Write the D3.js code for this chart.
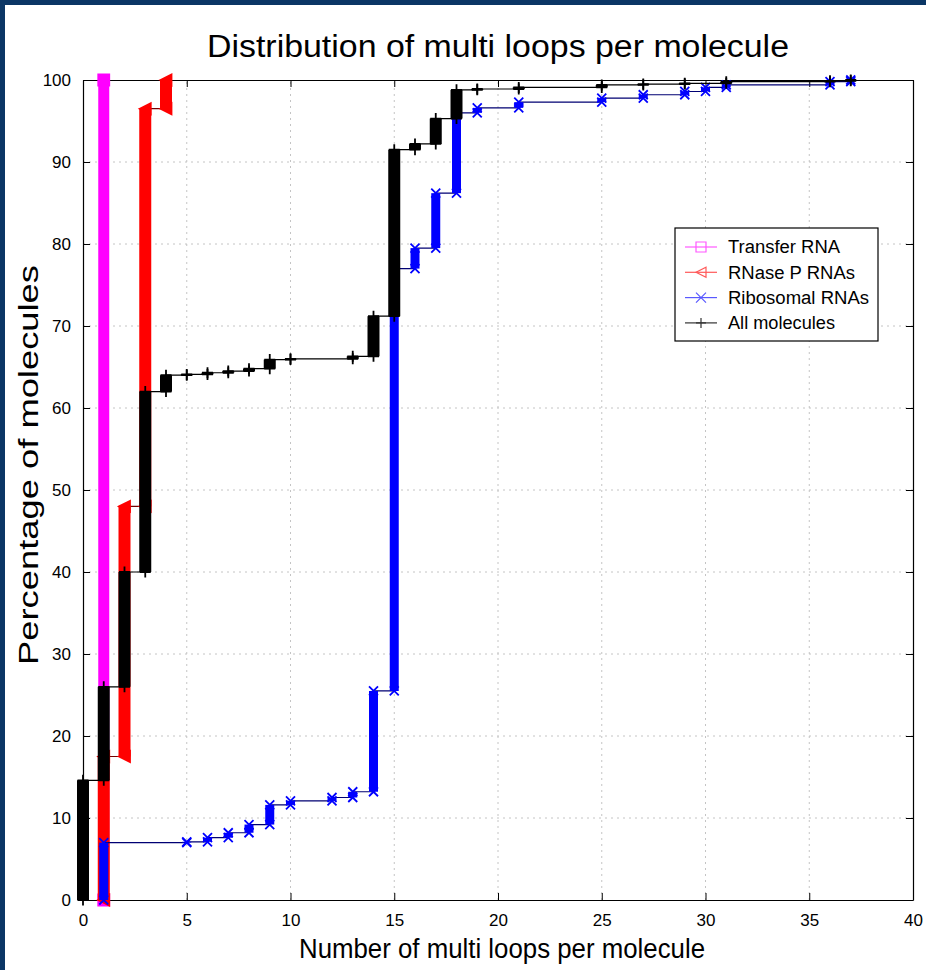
<!DOCTYPE html>
<html>
<head>
<meta charset="utf-8">
<script src="https://cdn.jsdelivr.net/npm/d3@7"></script>
<style>
  html, body { margin: 0; padding: 0; background: #fff; }
  svg { display: block; }
</style>
</head>
<body>
<div id="chart"></div>
<script>
// Cumulative share of molecules (%) reached at each number of multi loops
const transferX = [1];
const transferY = [100];

const rnaseX = [1, 2, 3, 4];
const rnaseY = [17.5, 48, 96.5, 100];

const riboX = [1, 5, 6, 7, 8, 9, 10, 12, 13, 14, 15, 16, 17, 18, 19, 21, 25, 27, 29, 30, 31, 36, 37];
const riboY = [7, 7.1, 7.6, 8.2, 9.2, 11.6, 12.1, 12.5, 13.2, 25.5, 77, 79.5, 86.2, 96, 96.6, 97.3, 97.8, 98.2, 98.6, 99.1, 99.4, 99.8, 100];

const allX = [0, 1, 2, 3, 4, 5, 6, 7, 8, 9, 10, 13, 14, 15, 16, 17, 18, 19, 21, 25, 27, 29, 31, 36, 37];
const allY = [14.6, 26, 40, 62, 64, 64.1, 64.3, 64.5, 64.8, 65.9, 66, 66.3, 71.2, 91.5, 92.2, 95.3, 98.8, 98.9, 99.1, 99.4, 99.5, 99.6, 99.8, 99.9, 100];

const xTicks = [0, 5, 10, 15, 20, 25, 30, 35, 40];
const yTicks = [0, 10, 20, 30, 40, 50, 60, 70, 80, 90, 100];

const seriesNames = ['Transfer RNA', 'RNase P RNAs', 'Ribosomal RNAs', 'All molecules'];

const FONT = '"Liberation Sans", Arial, Helvetica, sans-serif';

function draw() {
  const width = 926;
  const height = 970;

  const series = [
    { name: seriesNames[0], xs: transferX, ys: transferY, color: '#ff00ff', marker: 'square', bar: 11 },
    { name: seriesNames[1], xs: rnaseX, ys: rnaseY, color: '#ff0000', marker: 'left', bar: 12 },
    { name: seriesNames[2], xs: riboX, ys: riboY, color: '#0000ff', marker: 'x', bar: 9 },
    { name: seriesNames[3], xs: allX, ys: allY, color: '#000000', marker: 'plus', bar: 12 }
  ];

  const svg = d3.select('#chart')
    .append('svg')
    .attr('width', width)
    .attr('height', height);

  svg.append('rect')
    .attr('width', width)
    .attr('height', height)
    .attr('fill', '#fff');

  // dark blue slide frame (top and left)
  svg.append('rect').attr('x', 0).attr('y', 0).attr('width', width).attr('height', 5).attr('fill', '#0b3665');
  svg.append('rect').attr('x', 0).attr('y', 0).attr('width', 5).attr('height', height).attr('fill', '#0b3665');

  const x = d3.scaleLinear().domain([0, 40]).range([83, 913]);
  const y = d3.scaleLinear().domain([0, 100]).range([900, 80]);

  // Grid
  svg.append('g')
    .selectAll('line')
    .data(xTicks.slice(1, -1))
    .enter()
    .append('line')
    .attr('x1', d => x(d)).attr('x2', d => x(d))
    .attr('y1', y(0)).attr('y2', y(100))
    .attr('stroke', '#c4c4c4')
    .attr('stroke-dasharray', '2,4');

  svg.append('g')
    .selectAll('line')
    .data(yTicks.slice(1, -1))
    .enter()
    .append('line')
    .attr('x1', x(0)).attr('x2', x(40))
    .attr('y1', d => y(d)).attr('y2', d => y(d))
    .attr('stroke', '#c4c4c4')
    .attr('stroke-dasharray', '2,4');

  // Axes with inward ticks on all four sides
  const axisStyle = g => {
    g.select('.domain').attr('stroke', '#000').attr('stroke-width', 1.2);
    g.selectAll('.tick line').attr('stroke', '#000');
    g.selectAll('text').attr('fill', '#000').attr('font-family', FONT).attr('font-size', '17px');
  };

  svg.append('g')
    .attr('transform', `translate(0,${y(0)})`)
    .call(d3.axisBottom(x).tickValues(xTicks).tickSizeInner(-7).tickSizeOuter(0).tickPadding(14))
    .call(axisStyle);

  svg.append('g')
    .attr('transform', `translate(0,${y(100)})`)
    .call(d3.axisTop(x).tickValues(xTicks).tickSizeInner(-7).tickSizeOuter(0).tickFormat(''))
    .call(axisStyle);

  svg.append('g')
    .attr('transform', `translate(${x(0)},0)`)
    .call(d3.axisLeft(y).tickValues(yTicks).tickSizeInner(-7).tickSizeOuter(0).tickPadding(12))
    .call(axisStyle);

  svg.append('g')
    .attr('transform', `translate(${x(40)},0)`)
    .call(d3.axisRight(y).tickValues(yTicks).tickSizeInner(-7).tickSizeOuter(0).tickFormat(''))
    .call(axisStyle);

  const markerPath = (type, s) => {
    if (type === 'square') return `M${-s},${-s}H${s}V${s}H${-s}Z`;
    if (type === 'left') return `M${-s},0L${s},${-s}L${s},${s}Z`;
    if (type === 'x') return `M${-s},${-s}L${s},${s}M${-s},${s}L${s},${-s}`;
    return `M${-s},0H${s}M0,${-s}V${s}`;
  };

  const plot = svg.append('g');

  series.forEach(s => {
    const jumps = s.xs.map((xv, i) => ({ x: xv, lo: i ? s.ys[i - 1] : 0, hi: s.ys[i] }));
    const pts = [];
    jumps.forEach(j => { pts.push([j.x, j.lo]); pts.push([j.x, j.hi]); });

    // thin stairs
    plot.append('path')
      .attr('d', d3.line().x(d => x(d[0])).y(d => y(d[1]))(pts))
      .attr('fill', 'none')
      .attr('stroke', d3.interpolateRgb(s.color, '#000')(0.55))
      .attr('stroke-width', 1.2);

    // stacked markers form thick vertical bars at each jump
    plot.selectAll(null)
      .data(jumps)
      .enter()
      .append('line')
      .attr('x1', d => x(d.x)).attr('x2', d => x(d.x))
      .attr('y1', d => y(d.lo)).attr('y2', d => y(d.hi))
      .attr('stroke', s.color)
      .attr('stroke-width', s.bar);

    const ends = [];
    jumps.forEach(j => { ends.push([j.x, j.lo]); ends.push([j.x, j.hi]); });

    plot.selectAll(null)
      .data(ends)
      .enter()
      .append('path')
      .attr('transform', d => `translate(${x(d[0])},${y(d[1])})`)
      .attr('d', markerPath(s.marker, s.marker === 'x' ? 4.5 : 5.5))
      .attr('fill', s.marker === 'x' || s.marker === 'plus' ? 'none' : s.color)
      .attr('stroke', s.color)
      .attr('stroke-width', 1.8);
  });

  // Legend
  const legend = svg.append('g');
  legend.append('rect')
    .attr('x', 675).attr('y', 228)
    .attr('width', 203).attr('height', 113)
    .attr('fill', '#fff')
    .attr('stroke', '#000')
    .attr('stroke-width', 1.2);

  const legendWidths = [112, 127, 141, 107];
  series.forEach((s, i) => {
    const ly = 247 + i * 25.3;
    const lc = s.color === '#000000' ? '#333' : d3.interpolateRgb(s.color, '#fff')(0.35);
    legend.append('line')
      .attr('x1', 685).attr('x2', 717)
      .attr('y1', ly).attr('y2', ly)
      .attr('stroke', lc)
      .attr('stroke-width', 1.2);
    legend.append('path')
      .attr('transform', `translate(701,${ly})`)
      .attr('d', markerPath(s.marker, 5))
      .attr('fill', 'none')
      .attr('stroke', lc)
      .attr('stroke-width', 1.2);
    legend.append('text')
      .attr('x', 728)
      .attr('y', ly)
      .attr('dy', '0.36em')
      .attr('font-family', FONT)
      .attr('font-size', '18px')
      .attr('textLength', legendWidths[i])
      .attr('lengthAdjust', 'spacingAndGlyphs')
      .text(s.name);
  });

  // Titles
  svg.append('text')
    .attr('x', 498)
    .attr('y', 57)
    .attr('text-anchor', 'middle')
    .attr('font-family', FONT)
    .attr('font-size', '31px')
    .attr('textLength', 582)
    .attr('lengthAdjust', 'spacingAndGlyphs')
    .text('Distribution of multi loops per molecule');

  svg.append('text')
    .attr('x', 502)
    .attr('y', 958)
    .attr('text-anchor', 'middle')
    .attr('font-family', FONT)
    .attr('font-size', '27px')
    .attr('textLength', 406)
    .attr('lengthAdjust', 'spacingAndGlyphs')
    .text('Number of multi loops per molecule');

  svg.append('text')
    .attr('transform', 'translate(38,465) rotate(-90)')
    .attr('text-anchor', 'middle')
    .attr('font-family', FONT)
    .attr('font-size', '27px')
    .attr('textLength', 400)
    .attr('lengthAdjust', 'spacingAndGlyphs')
    .text('Percentage of molecules');
}

draw();
</script>
</body>
</html>
